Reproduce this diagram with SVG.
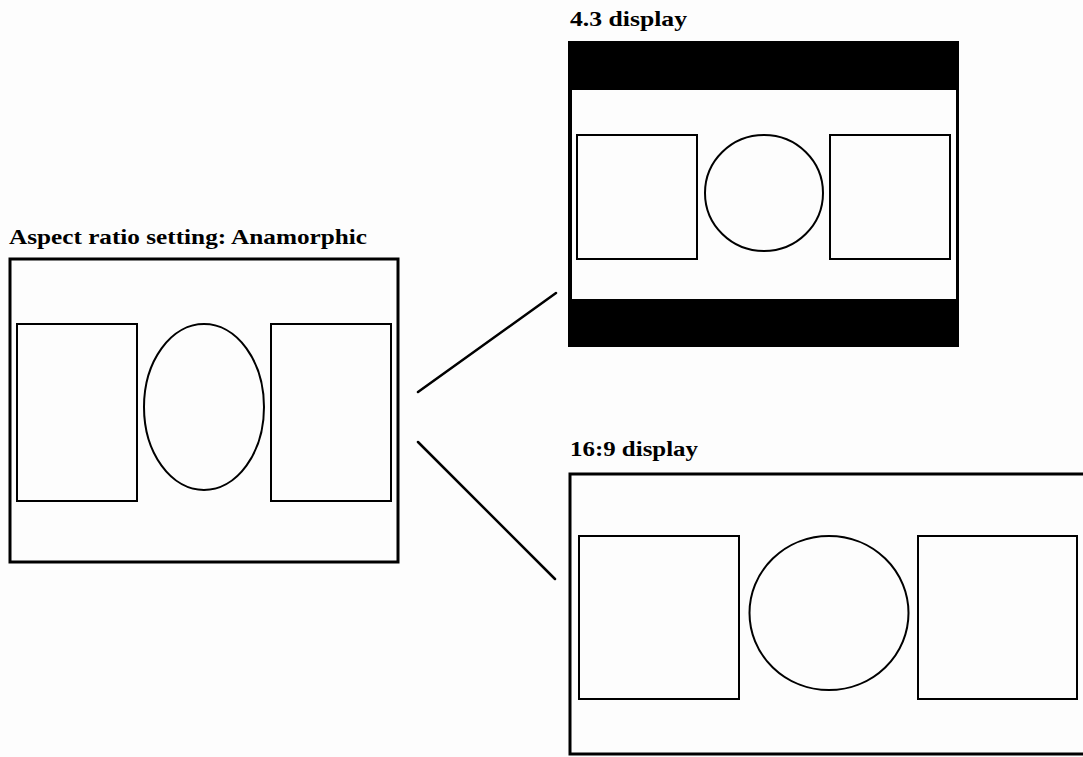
<svg xmlns="http://www.w3.org/2000/svg" width="1083" height="757" viewBox="0 0 1083 757">
<style>
.title{font-family:"Liberation Serif","DejaVu Serif",serif;font-weight:bold;font-size:22px;fill:#000}
.frame{fill:#fdfdfd;stroke:#000;stroke-width:3}
.shape{fill:none;stroke:#000;stroke-width:2}
.conn{stroke:#000;stroke-width:2.5;fill:none;stroke-linecap:round}
</style>
<rect x="0" y="0" width="1083" height="757" fill="#fdfdfd"/>
<g id="anamorphic">
<text class="title" x="9" y="244" textLength="358" lengthAdjust="spacingAndGlyphs">Aspect ratio setting: Anamorphic</text>
<rect class="frame" x="10" y="259" width="388" height="303"/>
<rect class="shape" x="17" y="324" width="120" height="177"/>
<ellipse class="shape" cx="204" cy="407" rx="60" ry="83"/>
<rect class="shape" x="271" y="324" width="120" height="177"/>
</g>
<g id="display43">
<text class="title" x="570" y="26" textLength="117" lengthAdjust="spacingAndGlyphs">4.3 display</text>
<rect x="568" y="41" width="391" height="306" fill="#000"/>
<rect x="572" y="90" width="384" height="209" fill="#fdfdfd"/>
<rect class="shape" x="577" y="135" width="120" height="124"/>
<ellipse class="shape" cx="764" cy="193" rx="59" ry="58"/>
<rect class="shape" x="830" y="135" width="120" height="124"/>
</g>
<g id="display169">
<text class="title" x="570" y="456" textLength="128" lengthAdjust="spacingAndGlyphs">16:9 display</text>
<rect class="frame" x="570" y="474" width="530" height="280"/>
<rect class="shape" x="579" y="536" width="160" height="163"/>
<ellipse class="shape" cx="829" cy="613" rx="79.5" ry="77"/>
<rect class="shape" x="918" y="536" width="159" height="163"/>
</g>
<g id="connectors">
<line class="conn" x1="418" y1="392" x2="556" y2="293"/>
<line class="conn" x1="418" y1="442" x2="555" y2="579"/>
</g>
</svg>
